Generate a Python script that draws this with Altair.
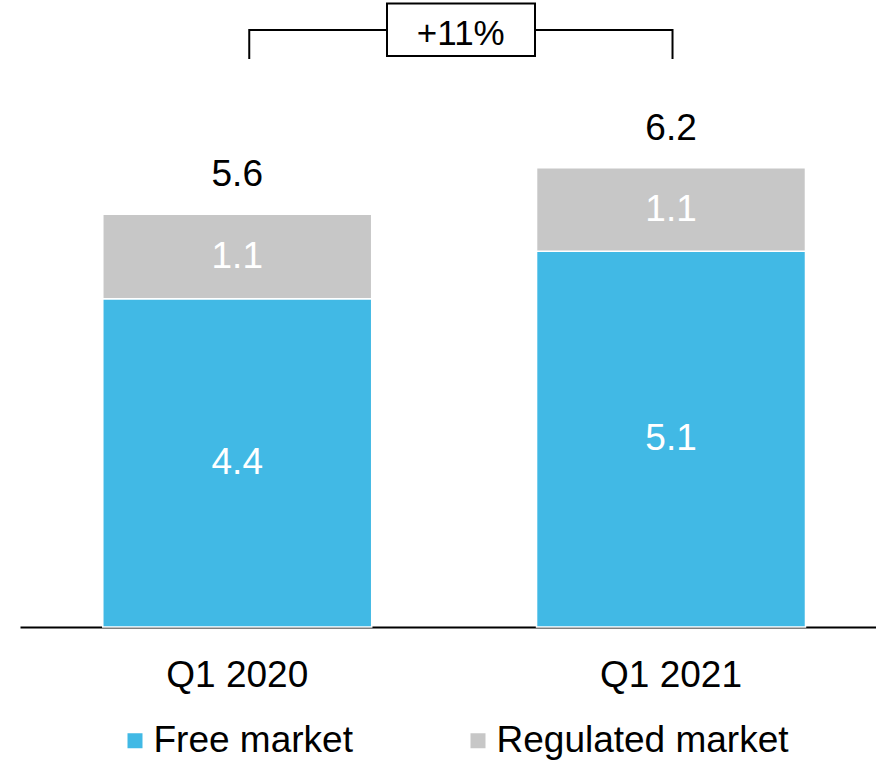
import altair as alt
import pandas as pd

quarters = ["Q1 2020", "Q1 2021"]
free_market = [4.44, 5.08]
regulated_market = [1.14, 1.13]
series_names = ["Free market", "Regulated market"]
series_colors = ["#41B9E5", "#C7C7C7"]
growth_label = "+11%"

FONT = "Liberation Sans"

rows = []
for q, f, r in zip(quarters, free_market, regulated_market):
    rows.append({"quarter": q, "segment": series_names[0], "value": f,
                 "order": 0, "mid": f / 2, "label": f"{f:.1f}"})
    rows.append({"quarter": q, "segment": series_names[1], "value": r,
                 "order": 1, "mid": f + r / 2, "label": f"{r:.1f}"})
df = pd.DataFrame(rows)

totals = pd.DataFrame({
    "quarter": quarters,
    "total": [f + r for f, r in zip(free_market, regulated_market)],
})
totals["label"] = totals["total"].map(lambda v: f"{v:.1f}")

x_scale = alt.Scale(domain=quarters, paddingInner=0.38, paddingOuter=0.1767, align=0.54)
y_scale = alt.Scale(domain=[0, 8.479])

bars = alt.Chart(df).mark_bar(stroke="white", strokeWidth=1.5).encode(
    x=alt.X("quarter:N", scale=x_scale, sort=quarters,
            axis=alt.Axis(title=None, labelAngle=0, labelFont=FONT, labelFontSize=37,
                          labelColor="black", labelPadding=30, ticks=False, tickSize=0,
                          domainColor="black", domainWidth=2, grid=False)),
    y=alt.Y("value:Q", stack="zero", scale=y_scale, axis=None),
    color=alt.Color("segment:N",
                    scale=alt.Scale(domain=series_names, range=series_colors),
                    legend=alt.Legend(title=None, orient="none", legendX=96.5, legendY=722,
                                      direction="horizontal", symbolType="square",
                                      symbolSize=225, symbolStrokeWidth=0,
                                      labelFont=FONT, labelFontSize=37, labelColor="black",
                                      labelOffset=0, columnPadding=106, labelLimit=500)),
    order=alt.Order("order:Q"),
)

inner = alt.Chart(df).mark_text(font=FONT, fontSize=37, color="white", baseline="middle").encode(
    x=alt.X("quarter:N", scale=x_scale),
    y=alt.Y("mid:Q", scale=y_scale),
    text="label:N",
)

top = alt.Chart(totals).mark_text(font=FONT, fontSize=37, color="black",
                                  baseline="alphabetic", dy=-28).encode(
    x=alt.X("quarter:N", scale=x_scale),
    y=alt.Y("total:Q", scale=y_scale),
    text="label:N",
)

bracket = pd.DataFrame({"start": [quarters[0]], "end": [quarters[1]], "label": [growth_label]})

hline = alt.Chart(bracket).mark_rule(color="black", strokeWidth=2, xOffset=12, x2Offset=1.5).encode(
    x=alt.X("start:N", scale=x_scale), x2="end:N", y=alt.value(30),
)
left_tick = alt.Chart(bracket).mark_rule(color="black", strokeWidth=2, xOffset=12).encode(
    x=alt.X("start:N", scale=x_scale), y=alt.value(29), y2=alt.value(59),
)
right_tick = alt.Chart(bracket).mark_rule(color="black", strokeWidth=2, xOffset=1.5).encode(
    x=alt.X("end:N", scale=x_scale), y=alt.value(29), y2=alt.value(59),
)
box = alt.Chart(bracket).mark_rect(fill="white", stroke="black", strokeWidth=2).encode(
    x=alt.value(367), x2=alt.value(515), y=alt.value(3.5), y2=alt.value(56),
)
box_text = alt.Chart(bracket).mark_text(font=FONT, fontSize=35, color="black",
                                        baseline="alphabetic", align="center").encode(
    x=alt.value(440.8), y=alt.value(45), text="label:N",
)

chart = alt.layer(bars, inner, top, hline, left_tick, right_tick, box, box_text).properties(
    width=856, height=627,
    autosize=alt.AutoSizeParams(type="none"),
    padding={"left": 20, "top": 0, "right": 0, "bottom": 139},
    background="white",
).configure_view(stroke=None)

chart.save("out.html", embed_options={"renderer": "svg", "actions": False})
